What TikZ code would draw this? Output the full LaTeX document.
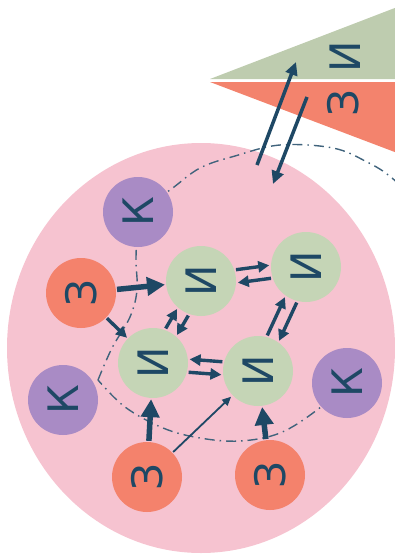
\documentclass[tikz,border=0pt]{standalone}
\usepackage{fontspec}
\setmainfont{DejaVu Sans}
\usetikzlibrary{arrows.meta,calc}
\definecolor{pinkbg}{HTML}{F6C3D0}
\definecolor{gfill}{HTML}{C5D5B6}
\definecolor{ofill}{HTML}{F4826C}
\definecolor{pfill}{HTML}{A98BC5}
\definecolor{gtri}{HTML}{BECCAF}
\definecolor{otri}{HTML}{F3836D}
\definecolor{ink}{HTML}{1E4865}
\tikzset{
  lettr/.style={rotate=90, text=ink, inner sep=0pt, font=\fontsize{42}{42}\selectfont},
  basenode/.style={circle, minimum size=70pt, lettr},
  gnode/.style={basenode, fill=gfill},
  onode/.style={basenode, fill=ofill},
  pnode/.style={basenode, fill=pfill},
  thickarr/.style={draw=ink, line width=5.5pt, -{Triangle[length=18pt,width=18pt]}, shorten <=1pt, shorten >=1pt},
  midarr/.style={draw=ink, line width=3.4pt, -{Triangle[length=11pt,width=11pt]}, shorten <=1pt, shorten >=1pt},
  thinarr/.style={draw=ink, line width=1.8pt, -{Triangle[length=9pt,width=8pt]}, shorten <=1pt, shorten >=2pt},
  toparr/.style={draw=ink, line width=3.5pt, -{Triangle[length=13pt,width=12pt]}},
  dashline/.style={draw=ink!85, line width=1.4pt, dash pattern=on 10pt off 5pt on 1.5pt off 5pt}
}
\begin{document}
\begin{tikzpicture}[x=1pt,y=-1pt]
\useasboundingbox (0,0) rectangle (395,557);
\begin{scope}
\clip (0,0) rectangle (395,557);
% triangles
\fill[gtri] (210,79) -- (400,6) -- (400,79) -- cycle;
\fill[otri] (210,82) -- (400,82) -- (400,154) -- cycle;
% big pink circle
\fill[pinkbg] (201,348) ellipse [x radius=194pt, y radius=205pt];
% dash-dot boundary
\draw[dashline] plot[smooth, tension=0.6] coordinates {(138,212) (170,190) (200,168) (235,156) (280,145) (333,148) (367,162) (392,178) (425,210)};
\draw[dashline] plot[smooth, tension=0.6] coordinates {(347,383) (317,410) (280,433) (240,441) (200,438) (163,428) (125,407) (98,380)};
\draw[dashline] plot[smooth, tension=0.6] coordinates {(98,380) (112,348) (130,317) (137,290) (136,258) (138,212)};
\end{scope}
% triangle labels
\node[lettr] (ti) at (345,57) {И};
\node[lettr] (tz) at (343,103) {З};
% nodes
\node[pnode] (k1) at (138,212) {К};
\node[pnode] (k2) at (63,400) {К};
\node[pnode] (k3) at (347,383) {К};
\node[onode] (z1) at (81,293) {З};
\node[onode] (z2) at (147,477) {З};
\node[onode] (z3) at (270,475) {З};
\node[gnode] (i1) at (201,281) {И};
\node[gnode] (i2) at (306,267) {И};
\node[gnode] (i3) at (153,363) {И};
\node[gnode] (i4) at (258,371) {И};
% arrows from З
\draw[thickarr] (z1) -- (i1);
\draw[midarr] (z1) -- (i3);
\draw[thickarr] (z2) -- (i3);
\draw[thinarr] (z2) -- (i4);
\draw[thickarr] (z3) -- (i4);
% pairs
\draw[midarr, transform canvas={shift={(-0.9,-6.5)}}] (i1) -- (i2);
\draw[midarr, transform canvas={shift={(0.9,6.5)}}] (i2) -- (i1);
\draw[midarr, transform canvas={shift={(-5.6,-3.3)}}] (i3) -- (i1);
\draw[midarr, transform canvas={shift={(5.6,3.3)}}] (i1) -- (i3);
\draw[midarr, transform canvas={shift={(5.9,2.7)}}] (i2) -- (i4);
\draw[midarr, transform canvas={shift={(-5.9,-2.7)}}] (i4) -- (i2);
\draw[midarr, transform canvas={shift={(0.5,-6.5)}}] (i4) -- (i3);
\draw[midarr, transform canvas={shift={(-0.5,6.5)}}] (i3) -- (i4);
% exchange with triangles
\coordinate (a1s) at (257,165);
\coordinate (a1e) at (296,62);
\coordinate (a2s) at (307,97);
\coordinate (a2e) at (273,184);
\draw[toparr] (a1s) -- (a1e);
\draw[toparr] (a2s) -- (a2e);
\end{tikzpicture}
\end{document}
